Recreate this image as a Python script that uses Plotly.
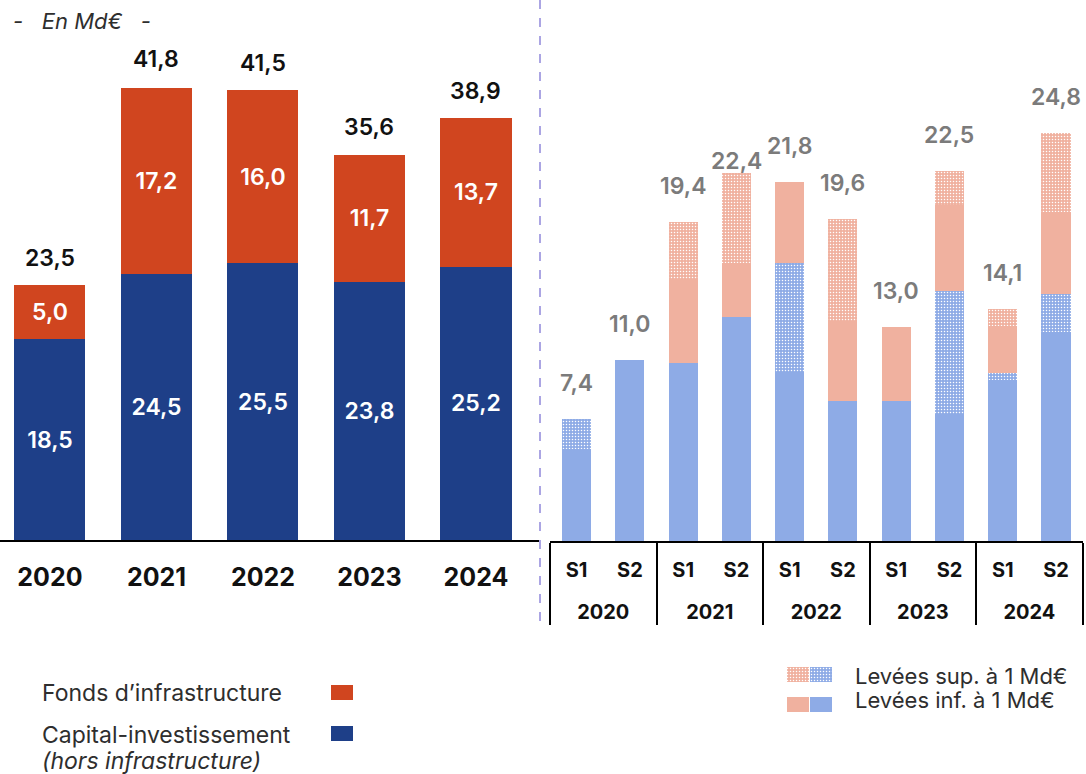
import plotly.graph_objects as go

W, H = 1086, 774
FONT = "Inter"

# ---------------- data ----------------
years = ["2020", "2021", "2022", "2023", "2024"]
pe_left = [18.5, 24.5, 25.5, 23.8, 25.2]
infra_left = [5.0, 17.2, 16.0, 11.7, 13.7]
totals_left = [23.5, 41.8, 41.5, 35.6, 38.9]

sem_years = ["2020", "2020", "2021", "2021", "2022", "2022", "2023", "2023", "2024", "2024"]
semesters = ["S1", "S2", "S1", "S2", "S1", "S2", "S1", "S2", "S1", "S2"]
pe_small = [5.6, 11.0, 10.8, 13.6, 10.3, 8.5, 8.5, 7.7, 9.8, 12.7]
pe_large = [1.8, 0.0, 0.0, 0.0, 6.6, 0.0, 0.0, 7.5, 0.4, 2.3]
infra_small = [0.0, 0.0, 5.1, 3.3, 4.9, 4.9, 4.5, 5.2, 2.9, 5.0]
infra_large = [0.0, 0.0, 3.5, 5.5, 0.0, 6.2, 0.0, 2.1, 1.0, 4.8]
totals_right = [7.4, 11.0, 19.4, 22.4, 21.8, 19.6, 13.0, 22.5, 14.1, 24.8]

legend_left = ["Fonds d’infrastructure", "Capital-investissement", "(hors infrastructure)"]
legend_right = ["Levées sup. à 1 Md€", "Levées inf. à 1 Md€"]
unit_label = "En Md€"

RED = "#D0451F"
NAVY = "#1E3F88"
SALMON = "#F0B19F"
LBLUE = "#8EABE6"
GREY = "#7B7B7B"
TXT = "#2E2E2E"


def fmt(v):
    return f"{v:.1f}".replace(".", ",")


def px(x):
    return x / W


def py(y):
    return 1 - y / H


def dotted(col):
    return dict(shape=".", fgcolor="white", bgcolor=col, size=3, solidity=0.2, fillmode="replace")


fig = go.Figure()

# ---------------- left chart ----------------
for vals, col in [(pe_left, NAVY), (infra_left, RED)]:
    fig.add_trace(go.Bar(
        x=list(range(5)), y=vals, marker=dict(color=col, line=dict(width=0)),
        width=0.667, text=[fmt(v) for v in vals], textposition="inside",
        insidetextanchor="middle", textangle=0,
        textfont=dict(family=FONT, size=23, color="white", weight=600),
        xaxis="x", yaxis="y", showlegend=False, hoverinfo="skip"))

annotations = []
for i, t in enumerate(totals_left):
    annotations.append(dict(xref="x", yref="y", x=i, y=t, text=fmt(t), showarrow=False,
                            yanchor="middle", yshift=27,
                            font=dict(family=FONT, size=23, color="#111111", weight=600)))

# ---------------- right chart ----------------
year_lbl = ["<br>" + y for y in sem_years]
xr = [year_lbl, semesters]
for vals, col, pat in [(pe_small, LBLUE, False), (pe_large, LBLUE, True),
                       (infra_small, SALMON, False), (infra_large, SALMON, True)]:
    mk = dict(color=col, line=dict(width=0))
    if pat:
        mk["pattern"] = dotted(col)
    fig.add_trace(go.Bar(x=xr, y=vals, marker=mk, width=0.545, xaxis="x2", yaxis="y2",
                         showlegend=False, hoverinfo="skip"))

for i, t in enumerate(totals_right):
    shift = 12 if i == 3 else 36
    annotations.append(dict(xref="x2", yref="y2", x=i, y=t, text=fmt(t), showarrow=False,
                            yanchor="middle", yshift=shift,
                            font=dict(family=FONT, size=23, color=GREY, weight=600)))

# ---------------- right legend swatches (mini axis) ----------------
sw_x = [0, 1, 0, 1]
sw_base = [2, 2, 0, 0]
sw_col = [SALMON, LBLUE, SALMON, LBLUE]
sw_pat = [True, True, False, False]
for xx, bb, cc, pp in zip(sw_x, sw_base, sw_col, sw_pat):
    mk = dict(color=cc, line=dict(width=0))
    if pp:
        mk["pattern"] = dotted(cc)
    fig.add_trace(go.Bar(x=[xx], y=[1], base=[bb], width=0.936, marker=mk,
                         xaxis="x3", yaxis="y3", showlegend=False, hoverinfo="skip"))

# ---------------- text ----------------
annotations.append(dict(xref="paper", yref="paper", x=px(11), y=py(21), xanchor="left",
                        yanchor="middle", showarrow=False,
                        text="<i>-&nbsp;&nbsp;&nbsp;" + unit_label + "&nbsp;&nbsp;&nbsp;-</i>",
                        font=dict(family=FONT, size=22, color=TXT)))
for txt, yy in zip(legend_left, [693, 735, 761]):
    if txt.startswith("("):
        txt = "<i>" + txt + "</i>"
    annotations.append(dict(xref="paper", yref="paper", x=px(40), y=py(yy), xanchor="left",
                            yanchor="middle", showarrow=False, text=txt,
                            font=dict(family=FONT, size=23, color=TXT)))
for txt, yy in zip(legend_right, [676, 700]):
    annotations.append(dict(xref="paper", yref="paper", x=px(853), y=py(yy), xanchor="left",
                            yanchor="middle", showarrow=False, text=txt,
                            font=dict(family=FONT, size=22, color=TXT)))

shapes = [
    dict(type="line", xref="paper", yref="paper", x0=px(540), x1=px(540), y0=py(0), y1=py(630),
         line=dict(color="#ABA5E3", width=2, dash="dash")),
    dict(type="rect", xref="paper", yref="paper", x0=px(331), x1=px(353), y0=py(685), y1=py(700),
         fillcolor=RED, line=dict(width=0)),
    dict(type="rect", xref="paper", yref="paper", x0=px(331), x1=px(353), y0=py(726), y1=py(741),
         fillcolor=NAVY, line=dict(width=0)),
]

# ---------------- layout ----------------
left_base = 1 - 540 / H
right_base = 1 - 541 / H
fig.update_layout(
    width=W, height=H, margin=dict(l=0, r=0, t=0, b=0),
    paper_bgcolor="white", plot_bgcolor="rgba(0,0,0,0)",
    barmode="stack", showlegend=False,
    font=dict(family=FONT),
    xaxis=dict(domain=[0, px(540)], range=[-0.469, 4.601], tickvals=list(range(5)), ticktext=years,
               showline=True, linecolor="black", linewidth=1.5, ticks="", showgrid=False,
               zeroline=False, tickfont=dict(family=FONT, size=25, color="#111111", weight=700),
               ticklabelstandoff=14, anchor="y", fixedrange=True),
    yaxis=dict(domain=[left_base, 1], range=[0, 540 / 10.85], visible=False, anchor="x"),
    xaxis2=dict(domain=[px(550), px(1083)], type="multicategory", showline=True, linecolor="black",
                linewidth=1.5, ticks="", showgrid=False, zeroline=False, showdividers=True,
                dividercolor="black", dividerwidth=1.5, ticklabelstandoff=10,
                tickfont=dict(family=FONT, size=20, color="#111111", weight=700), anchor="y2"),
    yaxis2=dict(domain=[right_base, 1], range=[0, 541 / 16.45], visible=False, anchor="x2"),
    xaxis3=dict(domain=[px(786), px(833)], range=[-0.5, 1.5], visible=False, anchor="y3"),
    yaxis3=dict(domain=[py(712), py(667)], range=[0, 3], visible=False, anchor="x3"),
    annotations=annotations, shapes=shapes,
)

fig.write_html("out.html", config={"displayModeBar": False},
               post_script="document.body.style.margin='0';document.body.style.overflow='hidden';")
